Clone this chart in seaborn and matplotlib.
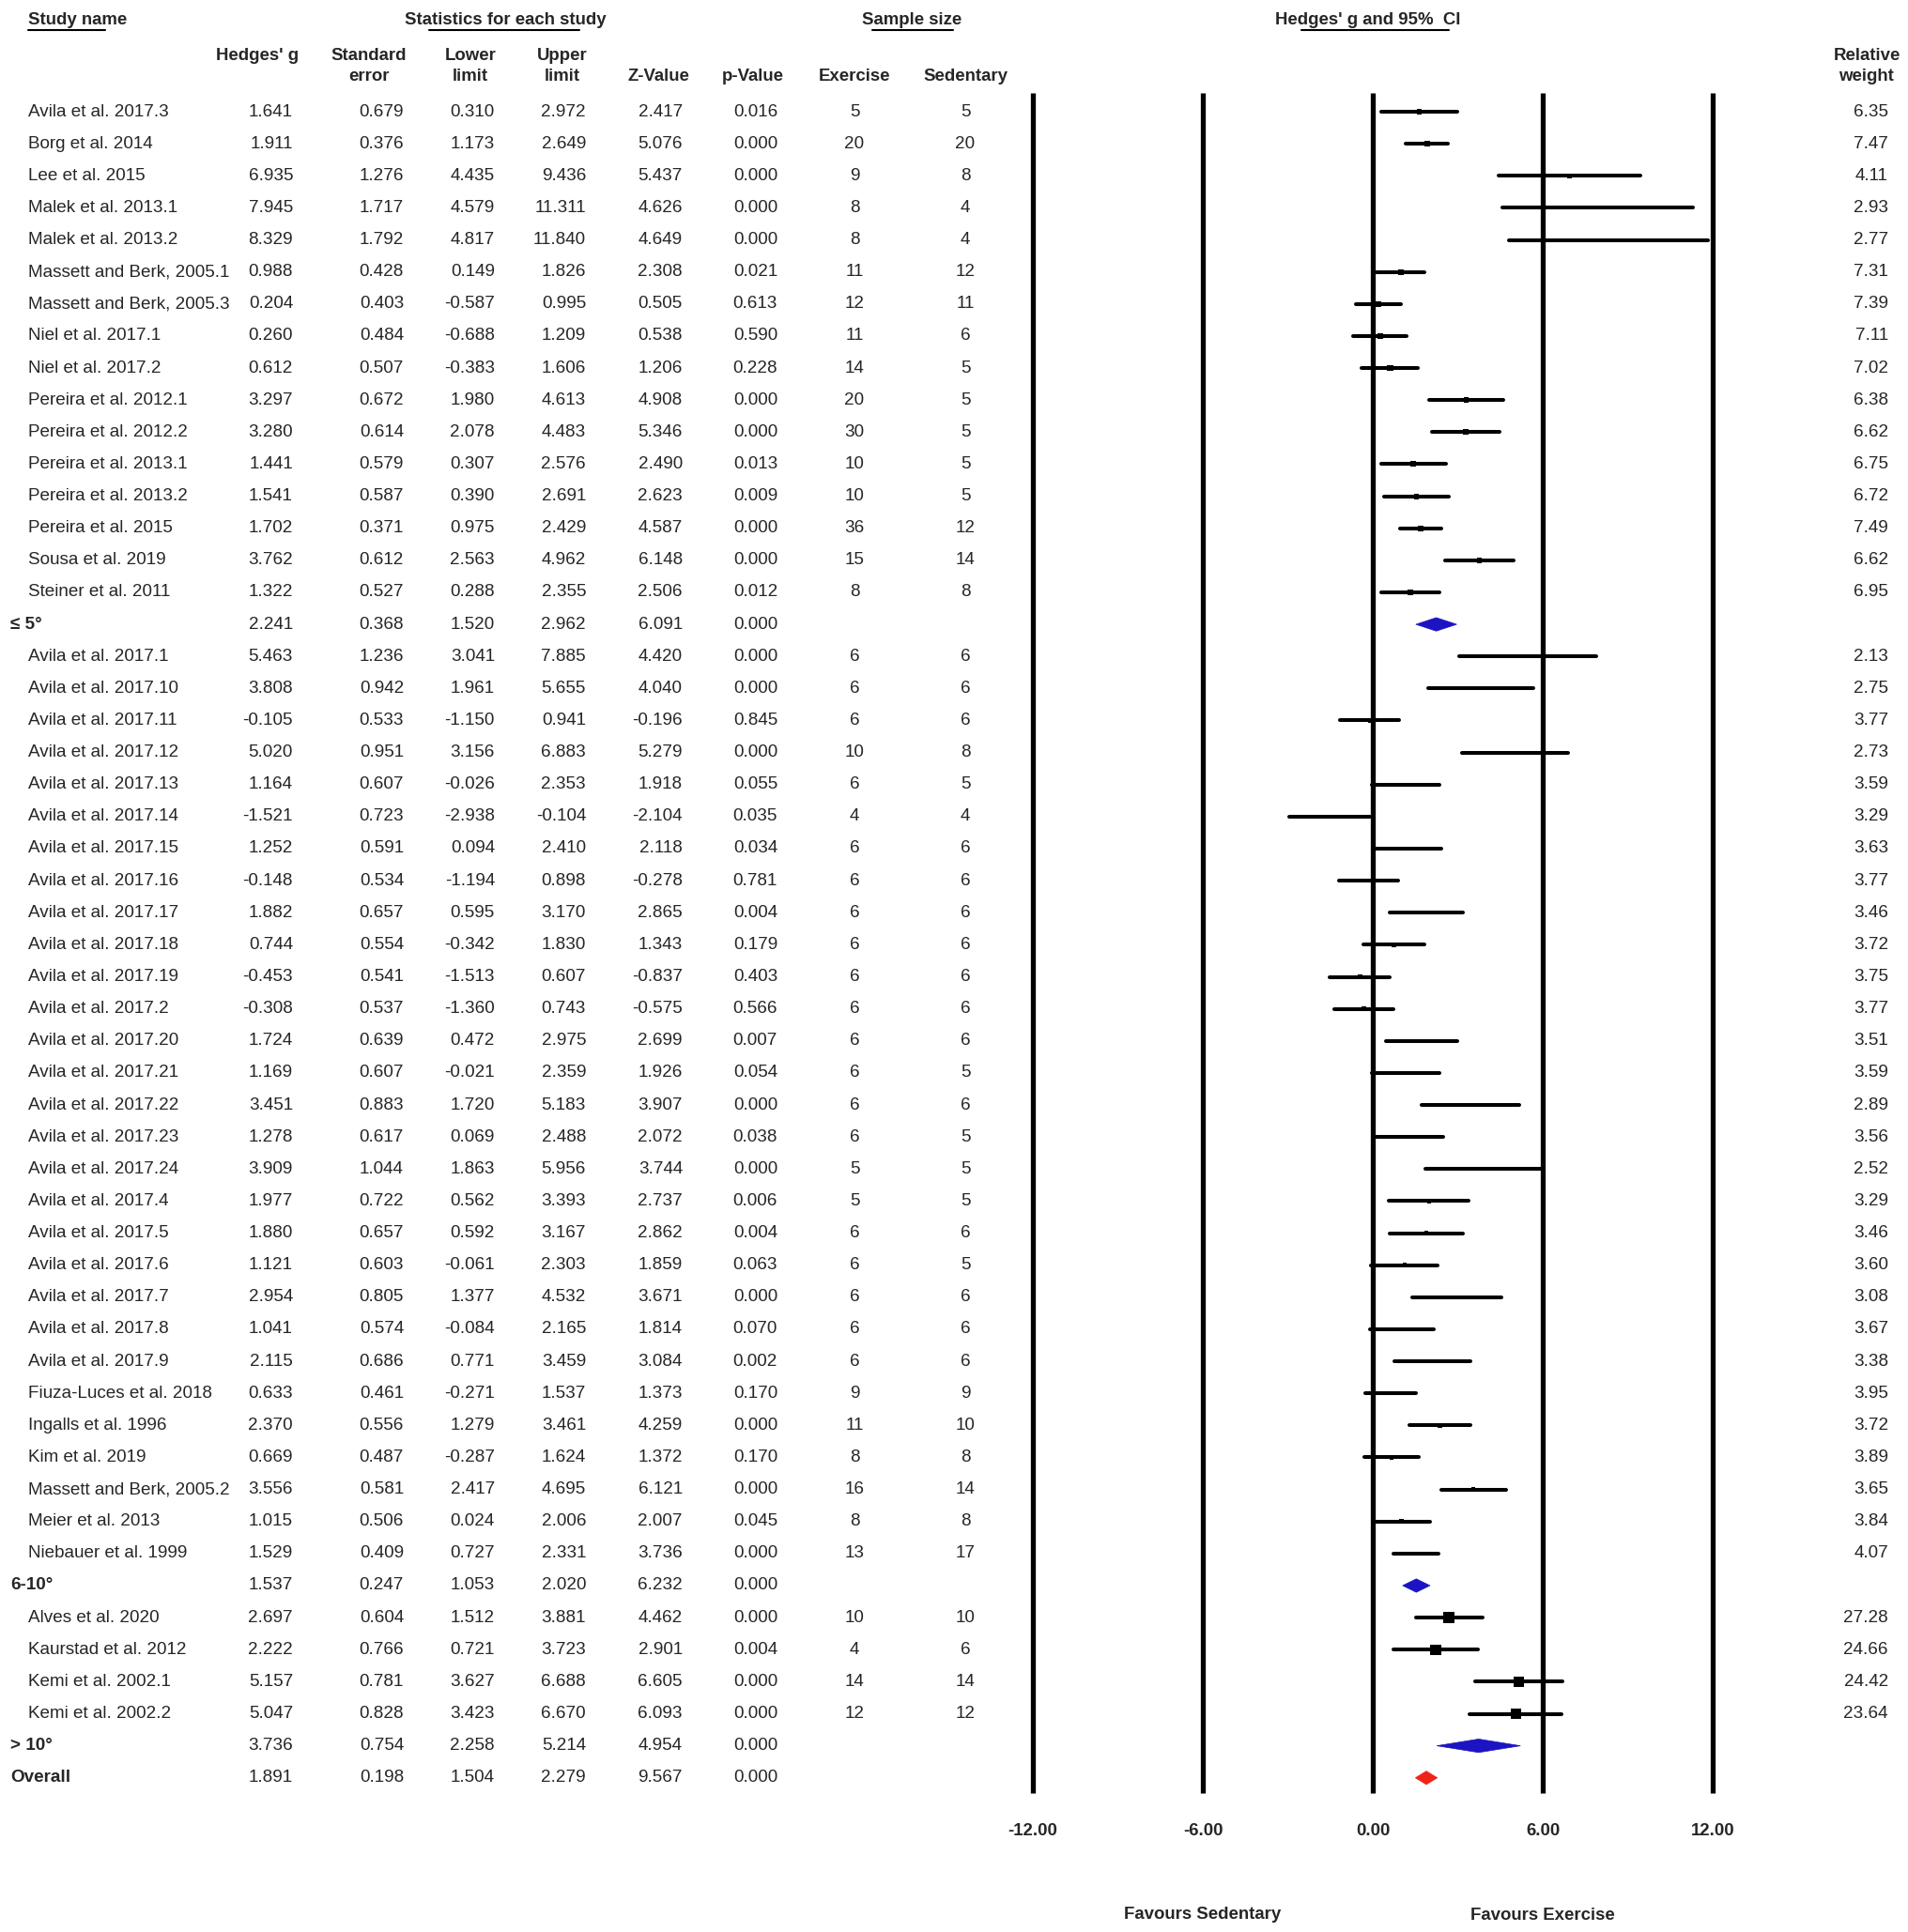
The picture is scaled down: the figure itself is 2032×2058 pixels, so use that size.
import matplotlib
matplotlib.use("Agg")
import matplotlib.pyplot as plt
import seaborn as sns
import pandas as pd
import numpy as np
from matplotlib import font_manager
from matplotlib.transforms import blended_transform_factory
from matplotlib.patches import Polygon
from matplotlib.lines import Line2D

sns.set_theme(style="white")
_avail = {f.name for f in font_manager.fontManager.ttflist}
if "Liberation Sans Narrow" in _avail:
    FAM = ["Liberation Sans Narrow", "Liberation Sans", "DejaVu Sans"]
    BODY, HEAD = 16.5, 16.0
else:
    FAM = ["Liberation Sans", "DejaVu Sans"]
    BODY, HEAD = 13.6, 13.4
plt.rcParams['font.family'] = FAM

# ---------------- data ----------------
names = [
    "Avila et al. 2017.3", "Borg et al. 2014", "Lee et al. 2015", "Malek et al. 2013.1",
    "Malek et al. 2013.2", "Massett and Berk, 2005.1", "Massett and Berk, 2005.3",
    "Niel et al. 2017.1", "Niel et al. 2017.2", "Pereira et al. 2012.1", "Pereira et al. 2012.2",
    "Pereira et al. 2013.1", "Pereira et al. 2013.2", "Pereira et al. 2015", "Sousa et al. 2019",
    "Steiner et al. 2011", "\u2264 5\u00b0",
    "Avila et al. 2017.1", "Avila et al. 2017.10", "Avila et al. 2017.11", "Avila et al. 2017.12",
    "Avila et al. 2017.13", "Avila et al. 2017.14", "Avila et al. 2017.15", "Avila et al. 2017.16",
    "Avila et al. 2017.17", "Avila et al. 2017.18", "Avila et al. 2017.19", "Avila et al. 2017.2",
    "Avila et al. 2017.20", "Avila et al. 2017.21", "Avila et al. 2017.22", "Avila et al. 2017.23",
    "Avila et al. 2017.24", "Avila et al. 2017.4", "Avila et al. 2017.5", "Avila et al. 2017.6",
    "Avila et al. 2017.7", "Avila et al. 2017.8", "Avila et al. 2017.9", "Fiuza-Luces et al. 2018",
    "Ingalls et al. 1996", "Kim et al. 2019", "Massett and Berk, 2005.2", "Meier et al. 2013",
    "Niebauer et al. 1999", "6-10\u00b0",
    "Alves et al. 2020", "Kaurstad et al. 2012", "Kemi et al. 2002.1", "Kemi et al. 2002.2",
    "> 10\u00b0", "Overall",
]
kind = (["study"] * 16 + ["sub"] + ["study"] * 29 + ["sub"] + ["study"] * 4 + ["sub", "overall"])
group = ([1] * 17 + [2] * 30 + [3] * 5 + [0])

hedges_g = [1.641, 1.911, 6.935, 7.945, 8.329, 0.988, 0.204, 0.260, 0.612, 3.297, 3.280, 1.441,
            1.541, 1.702, 3.762, 1.322, 2.241,
            5.463, 3.808, -0.105, 5.020, 1.164, -1.521, 1.252, -0.148, 1.882, 0.744, -0.453,
            -0.308, 1.724, 1.169, 3.451, 1.278, 3.909, 1.977, 1.880, 1.121, 2.954, 1.041, 2.115,
            0.633, 2.370, 0.669, 3.556, 1.015, 1.529, 1.537,
            2.697, 2.222, 5.157, 5.047, 3.736, 1.891]
std_err = [0.679, 0.376, 1.276, 1.717, 1.792, 0.428, 0.403, 0.484, 0.507, 0.672, 0.614, 0.579,
           0.587, 0.371, 0.612, 0.527, 0.368,
           1.236, 0.942, 0.533, 0.951, 0.607, 0.723, 0.591, 0.534, 0.657, 0.554, 0.541, 0.537,
           0.639, 0.607, 0.883, 0.617, 1.044, 0.722, 0.657, 0.603, 0.805, 0.574, 0.686, 0.461,
           0.556, 0.487, 0.581, 0.506, 0.409, 0.247,
           0.604, 0.766, 0.781, 0.828, 0.754, 0.198]
lower = [0.310, 1.173, 4.435, 4.579, 4.817, 0.149, -0.587, -0.688, -0.383, 1.980, 2.078, 0.307,
         0.390, 0.975, 2.563, 0.288, 1.520,
         3.041, 1.961, -1.150, 3.156, -0.026, -2.938, 0.094, -1.194, 0.595, -0.342, -1.513,
         -1.360, 0.472, -0.021, 1.720, 0.069, 1.863, 0.562, 0.592, -0.061, 1.377, -0.084, 0.771,
         -0.271, 1.279, -0.287, 2.417, 0.024, 0.727, 1.053,
         1.512, 0.721, 3.627, 3.423, 2.258, 1.504]
upper = [2.972, 2.649, 9.436, 11.311, 11.840, 1.826, 0.995, 1.209, 1.606, 4.613, 4.483, 2.576,
         2.691, 2.429, 4.962, 2.355, 2.962,
         7.885, 5.655, 0.941, 6.883, 2.353, -0.104, 2.410, 0.898, 3.170, 1.830, 0.607, 0.743,
         2.975, 2.359, 5.183, 2.488, 5.956, 3.393, 3.167, 2.303, 4.532, 2.165, 3.459, 1.537,
         3.461, 1.624, 4.695, 2.006, 2.331, 2.020,
         3.881, 3.723, 6.688, 6.670, 5.214, 2.279]
z_value = [2.417, 5.076, 5.437, 4.626, 4.649, 2.308, 0.505, 0.538, 1.206, 4.908, 5.346, 2.490,
           2.623, 4.587, 6.148, 2.506, 6.091,
           4.420, 4.040, -0.196, 5.279, 1.918, -2.104, 2.118, -0.278, 2.865, 1.343, -0.837,
           -0.575, 2.699, 1.926, 3.907, 2.072, 3.744, 2.737, 2.862, 1.859, 3.671, 1.814, 3.084,
           1.373, 4.259, 1.372, 6.121, 2.007, 3.736, 6.232,
           4.462, 2.901, 6.605, 6.093, 4.954, 9.567]
p_value = [0.016, 0.000, 0.000, 0.000, 0.000, 0.021, 0.613, 0.590, 0.228, 0.000, 0.000, 0.013,
           0.009, 0.000, 0.000, 0.012, 0.000,
           0.000, 0.000, 0.845, 0.000, 0.055, 0.035, 0.034, 0.781, 0.004, 0.179, 0.403, 0.566,
           0.007, 0.054, 0.000, 0.038, 0.000, 0.006, 0.004, 0.063, 0.000, 0.070, 0.002, 0.170,
           0.000, 0.170, 0.000, 0.045, 0.000, 0.000,
           0.000, 0.004, 0.000, 0.000, 0.000, 0.000]
n_exercise = [5, 20, 9, 8, 8, 11, 12, 11, 14, 20, 30, 10, 10, 36, 15, 8, None,
              6, 6, 6, 10, 6, 4, 6, 6, 6, 6, 6, 6, 6, 6, 6, 6, 5, 5, 6, 6, 6, 6, 6,
              9, 11, 8, 16, 8, 13, None,
              10, 4, 14, 12, None, None]
n_sedentary = [5, 20, 8, 4, 4, 12, 11, 6, 5, 5, 5, 5, 5, 12, 14, 8, None,
               6, 6, 6, 8, 5, 4, 6, 6, 6, 6, 6, 6, 6, 5, 6, 5, 5, 5, 6, 5, 6, 6, 6,
               9, 10, 8, 14, 8, 17, None,
               10, 6, 14, 12, None, None]
rel_weight = [6.35, 7.47, 4.11, 2.93, 2.77, 7.31, 7.39, 7.11, 7.02, 6.38, 6.62, 6.75, 6.72,
              7.49, 6.62, 6.95, None,
              2.13, 2.75, 3.77, 2.73, 3.59, 3.29, 3.63, 3.77, 3.46, 3.72, 3.75, 3.77, 3.51,
              3.59, 2.89, 3.56, 2.52, 3.29, 3.46, 3.60, 3.08, 3.67, 3.38, 3.95, 3.72, 3.89,
              3.65, 3.84, 4.07, None,
              27.28, 24.66, 24.42, 23.64, None, None]
axis_ticks = [-12, -6, 0, 6, 12]

df = pd.DataFrame({
    "name": names, "kind": kind, "group": group, "g": hedges_g, "se": std_err,
    "lower": lower, "upper": upper, "z": z_value, "p": p_value,
    "n_ex": n_exercise, "n_sed": n_sedentary, "w": rel_weight,
})
df["row"] = np.arange(len(df))

# ---------------- layout (pixels of the 2032x2058 canvas) ----------------
W, H = 2032, 2058
ROW0, DROW = 119.0, 34.13          # centre of first row, row spacing
X_M12, X_P12 = 1100.0, 1824.0      # pixel x of -12 and +12
ppu = (X_P12 - X_M12) / 24.0


def rowof(py):
    return (py - ROW0) / DROW


fig = plt.figure(figsize=(W / 100, H / 100), dpi=100)
ax = fig.add_axes([0, 0, 1, 1])
xmin = -12 - X_M12 / ppu
xmax = 12 + (W - X_P12) / ppu

tr = blended_transform_factory(fig.transFigure, ax.transData)

# reference vertical lines
ax.vlines(axis_ticks, rowof(99), rowof(1910), color="black", lw=3.8, zorder=1)

# confidence intervals for studies
studies = df[df["kind"] == "study"].copy()
lc = ax.hlines(studies["row"], studies["lower"], studies["upper"], color="black",
               lw=2.9, zorder=2)
lc.set_capstyle("round")

# point estimates (square size proportional to weight)
sns.scatterplot(data=studies, x="g", y="row", size="w", sizes=(0, 30 * 2.75),
                size_norm=(0, 30), marker="s", color="black", linewidth=0,
                legend=False, ax=ax, zorder=3)

# subgroup / overall diamonds
summ = df[df["kind"] != "study"]
for _, r in summ.iterrows():
    h = 0.21
    col = "#ee2418" if r["kind"] == "overall" else "#1c14c2"
    poly = Polygon([(r["lower"], r["row"]), (r["g"], r["row"] - h),
                    (r["upper"], r["row"]), (r["g"], r["row"] + h)],
                   closed=True, facecolor=col, edgecolor=col, lw=0.5, zorder=3)
    ax.add_patch(poly)

ax.set_xlim(xmin, xmax)
ax.set_ylim(rowof(H), rowof(0))
ax.axis("off")

# ---------------- table text ----------------
cols_right = [("g", 312, "{:.3f}"), ("se", 430, "{:.3f}"), ("lower", 527, "{:.3f}"),
              ("upper", 624, "{:.3f}"), ("z", 727, "{:.3f}"), ("p", 828, "{:.3f}")]
for _, r in df.iterrows():
    y = r["row"]
    if r["kind"] == "study":
        ax.text(30 / W, y, r["name"], transform=tr, ha="left", va="center", fontsize=BODY)
    else:
        ax.text(11 / W, y, r["name"], transform=tr, ha="left", va="center", fontsize=BODY,
                fontweight="bold")
    for key, px, fmt in cols_right:
        ax.text(px / W, y, fmt.format(r[key]), transform=tr, ha="right", va="center",
                fontsize=BODY)
    if pd.notna(r["n_ex"]):
        ax.text(910 / W, y, str(int(r["n_ex"])), transform=tr, ha="center", va="center",
                fontsize=BODY)
        ax.text(1028 / W, y, str(int(r["n_sed"])), transform=tr, ha="center", va="center",
                fontsize=BODY)
    if pd.notna(r["w"]):
        ax.text(2011 / W, y, "{:.2f}".format(r["w"]), transform=tr, ha="right", va="center",
                fontsize=BODY)


def ftext(px, py, s, ha="center", **kw):
    fig.text(px / W, 1 - py / H, s, ha=ha, va="center", fontsize=HEAD, fontweight="bold", **kw)


def uline(x0, x1, py):
    fig.add_artist(Line2D([x0 / W, x1 / W], [1 - py / H, 1 - py / H],
                          transform=fig.transFigure, color="black", lw=1.5))


# top headers
ftext(30, 21, "Study name", ha="left")
uline(30, 112, 32)
ftext(538, 21, "Statistics for each study")
uline(457, 617, 32)
ftext(971, 21, "Sample size")
uline(929, 1015, 32)
ftext(1457, 21, "Hedges' g and 95%  CI")
uline(1386, 1543, 32)

# column headers
ftext(274, 60, "Hedges' g")
ftext(393, 60, "Standard")
ftext(393, 81, "error")
ftext(501, 60, "Lower")
ftext(501, 81, "limit")
ftext(599, 60, "Upper")
ftext(599, 81, "limit")
ftext(701, 81, "Z-Value")
ftext(802, 81, "p-Value")
ftext(910, 81, "Exercise")
ftext(1028, 81, "Sedentary")
ftext(1988, 60, "Relative")
ftext(1988, 81, "weight")

# axis tick labels and favours labels
for t in axis_ticks:
    ax.text(t, rowof(1950), "{:.2f}".format(t), ha="center", va="center",
            fontsize=HEAD, fontweight="bold")
ax.text(-6, rowof(2040), "Favours Sedentary", ha="center", va="center",
        fontsize=HEAD, fontweight="bold")
ax.text(6, rowof(2040), "Favours Exercise", ha="center", va="center",
        fontsize=HEAD, fontweight="bold")

fig.savefig("out.png", dpi=100, facecolor="white")
